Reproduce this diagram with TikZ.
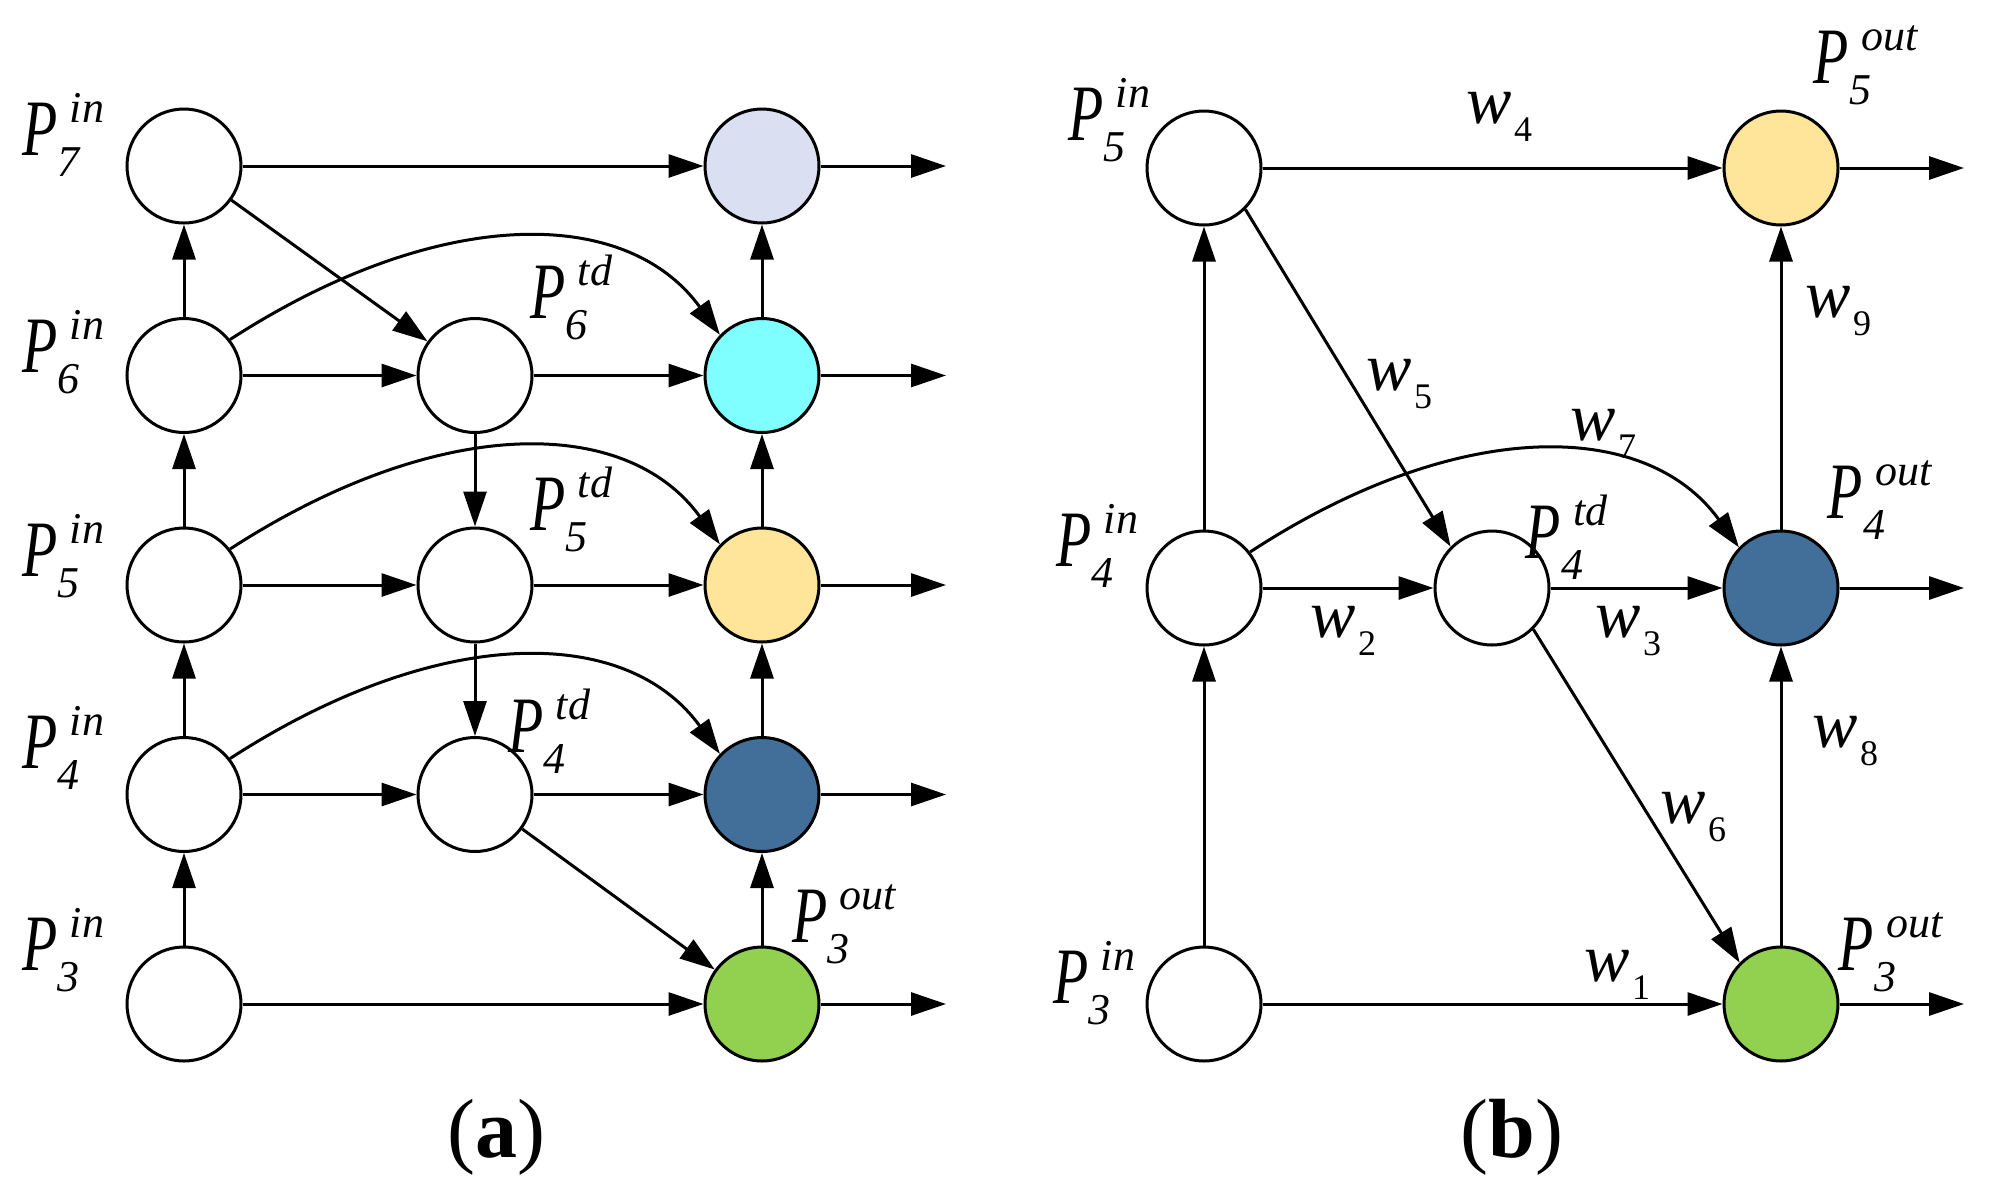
\documentclass[tikz,border=0pt]{standalone}
\usepackage{fontspec}
\setmainfont{Liberation Serif}
\usepackage{graphicx}
\usetikzlibrary{arrows.meta}
\definecolor{lav}{RGB}{218,224,241}
\definecolor{cyn}{RGB}{127,255,255}
\definecolor{yel}{RGB}{255,229,153}
\definecolor{blu}{RGB}{65,111,154}
\definecolor{grn}{RGB}{146,208,80}
\newcommand\PL[2]{\scalebox{0.72}[1]{\fontsize{20}{24}\selectfont\textit{P}}\rlap{\kern3pt\raisebox{8.25pt}{\fontsize{11}{13}\selectfont\textit{#1}}}\raisebox{-5.25pt}{\fontsize{11}{13}\selectfont\textit{#2}}}
\newcommand\WL[1]{{\fontsize{17}{20}\selectfont\textit{w}}\kern0.5pt\raisebox{-4.6pt}{\fontsize{9}{11}\selectfont #1}}
\begin{document}
\begin{tikzpicture}[x=0.25pt,y=-0.25pt,
  nd/.style={circle, draw, line width=0.75pt, minimum size=28.5pt, inner sep=0pt, fill=white},
  ar/.style={line width=0.75pt, -{Triangle[length=8.75pt,width=5.75pt]}},
  lbl/.style={anchor=base west, inner sep=0pt},
  captext/.style={anchor=base, inner sep=0pt, font=\fontsize{21}{25}\selectfont}]
\useasboundingbox (0,0) rectangle (1992,1200);
% ---------------- panel (a) ----------------
\node[nd] (a7in) at (184,166) {};
\node[nd] (a6in) at (184,375.5) {};
\node[nd] (a5in) at (184,585) {};
\node[nd] (a4in) at (184,794.5) {};
\node[nd] (a3in) at (184,1004) {};
\node[nd] (a6td) at (475,375.5) {};
\node[nd] (a5td) at (475,585) {};
\node[nd] (a4td) at (475,794.5) {};
\node[nd, fill=lav] (a7out) at (762,166) {};
\node[nd, fill=cyn] (a6out) at (762,375.5) {};
\node[nd, fill=yel] (a5out) at (762,585) {};
\node[nd, fill=blu] (a4out) at (762,794.5) {};
\node[nd, fill=grn] (a3out) at (762,1004) {};
\coordinate (ao7) at (946,166);
\coordinate (ao6) at (946,375.5);
\coordinate (ao5) at (946,585);
\coordinate (ao4) at (946,794.5);
\coordinate (ao3) at (946,1004);
% horizontal
\draw[ar] (a7in) -- (a7out);
\draw[ar] (a6in) -- (a6td);
\draw[ar] (a6td) -- (a6out);
\draw[ar] (a5in) -- (a5td);
\draw[ar] (a5td) -- (a5out);
\draw[ar] (a4in) -- (a4td);
\draw[ar] (a4td) -- (a4out);
\draw[ar] (a3in) -- (a3out);
\foreach \r in {7,6,5,4,3} {\draw[ar] (a\r out) -- (ao\r);}
% vertical
\draw[ar] (a3in) -- (a4in);
\draw[ar] (a4in) -- (a5in);
\draw[ar] (a5in) -- (a6in);
\draw[ar] (a6in) -- (a7in);
\draw[ar] (a3out) -- (a4out);
\draw[ar] (a4out) -- (a5out);
\draw[ar] (a5out) -- (a6out);
\draw[ar] (a6out) -- (a7out);
\draw[ar] (a6td) -- (a5td);
\draw[ar] (a5td) -- (a4td);
% diagonal
\draw[ar] (a7in) -- (a6td);
\draw[ar] (a4td) -- (a3out);
% curves
\draw[ar] (a6in.38) .. controls +(207,-134) and +(-94,-130) .. (a6out.136);
\draw[ar] (a5in.38) .. controls +(207,-134) and +(-94,-130) .. (a5out.136);
\draw[ar] (a4in.38) .. controls +(207,-134) and +(-94,-130) .. (a4out.136);
% labels
\node[lbl] (t7in) at (22,155) {\PL{in}{7}};
\node[lbl] (t6in) at (22,372) {\PL{in}{6}};
\node[lbl] (t5in) at (22,576) {\PL{in}{5}};
\node[lbl] (t4in) at (22,768) {\PL{in}{4}};
\node[lbl] (t3in) at (22,970) {\PL{in}{3}};
\node[lbl] (t6td) at (530,318) {\PL{td}{6}};
\node[lbl] (t5td) at (530,530) {\PL{td}{5}};
\node[lbl] (t4td) at (508,752) {\PL{td}{4}};
\node[lbl] (t3out) at (792,942) {\PL{out}{3}};
\node[captext] (capa) at (496,1157) {(\textbf{a})};
% ---------------- panel (b) ----------------
\node[nd] (b5in) at (1204,168) {};
\node[nd] (b4in) at (1204,588) {};
\node[nd] (b3in) at (1204,1004) {};
\node[nd] (b4td) at (1492,588) {};
\node[nd, fill=yel] (b5out) at (1781,168) {};
\node[nd, fill=blu] (b4out) at (1781,588) {};
\node[nd, fill=grn] (b3out) at (1781,1004) {};
\coordinate (bo5) at (1964,168);
\coordinate (bo4) at (1964,588);
\coordinate (bo3) at (1964,1004);
\draw[ar] (b5in) -- (b5out);
\draw[ar] (b4in) -- (b4td);
\draw[ar] (b4td) -- (b4out);
\draw[ar] (b3in) -- (b3out);
\foreach \r in {5,4,3} {\draw[ar] (b\r out) -- (bo\r);}
\draw[ar] (b3in) -- (b4in);
\draw[ar] (b4in) -- (b5in);
\draw[ar] (b3out) -- (b4out);
\draw[ar] (b4out) -- (b5out);
\draw[ar] (b5in.-45) -- (b4td.135);
\draw[ar] (b4td.-45) -- (b3out.135);
\draw[ar] (b4in.38) .. controls +(205,-134) and +(-94,-130) .. (b4out.136);
% labels
\node[lbl] (s5in) at (1068,140) {\PL{in}{5}};
\node[lbl] (s4in) at (1056,566) {\PL{in}{4}};
\node[lbl] (s3in) at (1053,1003) {\PL{in}{3}};
\node[lbl] (s4td) at (1525,558) {\PL{td}{4}};
\node[lbl] (s5out) at (1813,83) {\PL{out}{5}};
\node[lbl] (s4out) at (1827,518) {\PL{out}{4}};
\node[lbl] (s3out) at (1838,970) {\PL{out}{3}};
\node[lbl] (w1) at (1584,981) {\WL{1}};
\node[lbl] (w2) at (1310,637) {\WL{2}};
\node[lbl] (w3) at (1595,637) {\WL{3}};
\node[lbl] (w4) at (1466,123) {\WL{4}};
\node[lbl] (w5) at (1366,390) {\WL{5}};
\node[lbl] (w6) at (1660,823) {\WL{6}};
\node[lbl] (w7) at (1570,440) {\WL{7}};
\node[lbl] (w8) at (1812,747) {\WL{8}};
\node[lbl] (w9) at (1805,317) {\WL{9}};
\node[captext] (capb) at (1512,1157) {(\textbf{b})};
\end{tikzpicture}
\end{document}
